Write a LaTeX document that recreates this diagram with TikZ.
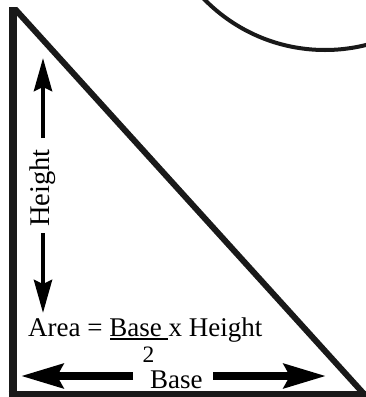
\documentclass[tikz,border=0pt]{standalone}
\usepackage{fontspec}
\setmainfont{Liberation Serif}
\usetikzlibrary{arrows.meta}
\tikzset{
  edge/.style={line width=6.5pt, black!90},
  varr/.style={line width=4.5pt, -{Stealth[length=33pt, width=18pt, inset=4pt]}},
  harr/.style={line width=8pt, -{Stealth[length=42pt, width=24pt, inset=6pt]}},
  lbl/.style={font=\fontsize{27}{29}\selectfont, inner sep=0pt},
}
\begin{document}
\begin{tikzpicture}[x=1pt, y=-1pt]
\fill[white] (0,0) rectangle (366,397);
\useasboundingbox (0,0) rectangle (366,397);
% circle arc at top right
\begin{scope}
  \clip (0,0) rectangle (366,397);
  \draw[line width=4pt, black!90] (325,-119) circle [radius=169];
\end{scope}
% triangle
\coordinate (tl) at (12.5,7);
\coordinate (bl) at (12.5,394.5);
\coordinate (br) at (366,394.5);
\coordinate (ht) at (15,9);
\coordinate (hb) at (364,394);
\draw[edge, line width=8pt] (tl) -- ([yshift=-3pt]bl);
\draw[edge] (8.5,394.5) -- (br);
\draw[edge, line width=6pt] (ht) -- (hb);
% Height label and arrows
\node[lbl, rotate=90, font=\fontsize{28.5}{30}\selectfont] (height) at (43,188) {Height};
\coordinate (hs1) at (43,138);
\coordinate (htop) at (43,58);
\coordinate (hs2) at (43,233);
\coordinate (hbot) at (43,313);
\draw[varr] (hs1) -- (htop);
\draw[varr] (hs2) -- (hbot);
% Area formula
\node[lbl, anchor=base west] (area) at (28,336) {Area = Base x Height};
\coordinate (u1) at (110,339);
\coordinate (u2) at (168,339);
\draw[line width=1.4pt] (u1) -- (u2);
\node[lbl, anchor=base, font=\fontsize{23.5}{25}\selectfont] (two) at (148.5,362) {2};
% Base label and arrows
\node[lbl, anchor=base west] (base) at (150,388) {Base};
\coordinate (bs1) at (133,376);
\coordinate (bleft) at (21,376);
\coordinate (bs2) at (213,376);
\coordinate (bright) at (326,376);
\draw[harr] (bs1) -- (bleft);
\draw[harr] (bs2) -- (bright);
\end{tikzpicture}
\end{document}
